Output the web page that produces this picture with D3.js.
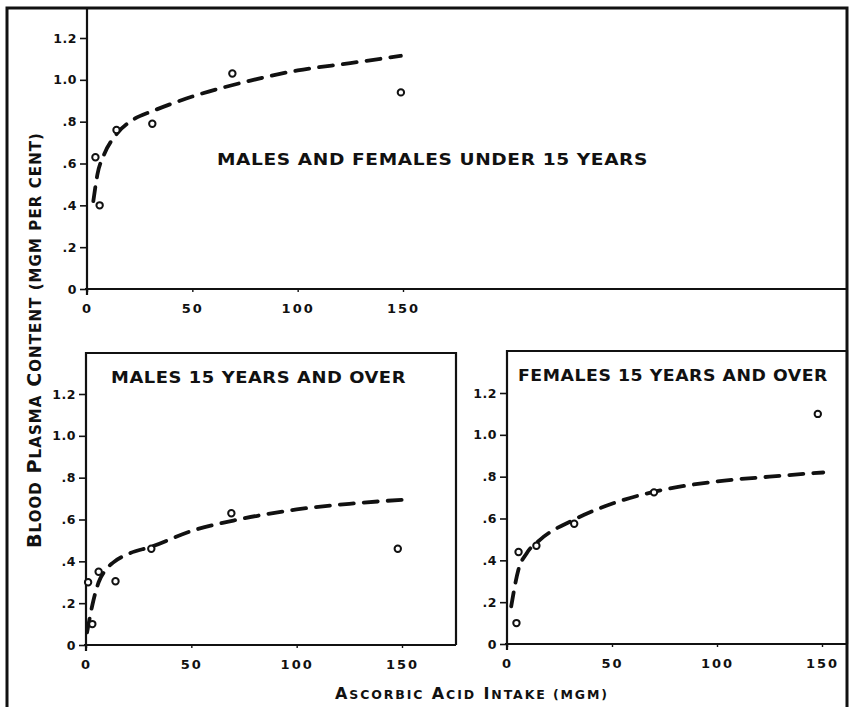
<!DOCTYPE html>
<html>
<head>
<meta charset="utf-8">
<script src="https://cdn.jsdelivr.net/npm/d3@7"></script>
<style>
  body { margin: 0; background: #fff; }
  svg { display: block; }
  text { font-family: "DejaVu Sans", sans-serif; font-weight: bold; fill: #111; }
</style>
</head>
<body>
<svg id="chart"></svg>
<script>
// Axis ticks shared by the three panels
var xTicks = [0, 50, 100, 150];
var yTicks = [0, 0.2, 0.4, 0.6, 0.8, 1.0, 1.2];
var yTickLabels = ["0", ".2", ".4", ".6", ".8", "1.0", "1.2"];

// Males and females under 15 years
var youthIntake = [4, 6, 14, 31, 69, 149];
var youthPlasma = [0.63, 0.40, 0.76, 0.79, 1.03, 0.94];
var youthCurveIntake = [3, 5, 8, 14, 22, 31, 50, 75, 100, 125, 149];
var youthCurvePlasma = [0.42, 0.55, 0.64, 0.74, 0.81, 0.85, 0.92, 0.99, 1.045, 1.08, 1.115];

// Males 15 years and over
var maleIntake = [1, 3, 6, 14, 31, 69, 148];
var malePlasma = [0.30, 0.10, 0.35, 0.305, 0.46, 0.63, 0.46];
var maleCurveIntake = [0.5, 3, 6, 9, 13, 20, 31, 50, 70, 100, 125, 151];
var maleCurvePlasma = [0.06, 0.19, 0.30, 0.355, 0.395, 0.435, 0.47, 0.545, 0.595, 0.648, 0.675, 0.695];

// Females 15 years and over
var femaleIntake = [4.5, 5.5, 14, 32, 70, 148];
var femalePlasma = [0.10, 0.44, 0.47, 0.575, 0.725, 1.10];
var femaleCurveIntake = [2, 5.4, 9.4, 15.7, 31.6, 50.6, 69.7, 99.8, 125, 150.6];
var femaleCurvePlasma = [0.18, 0.354, 0.434, 0.498, 0.593, 0.673, 0.727, 0.777, 0.80, 0.82];

var width = 851,
    height = 707;

var svg = d3.select("#chart")
  .attr("width", width)
  .attr("height", height);

// Outer frame (open at the bottom)
svg.append("path")
  .attr("d", "M7," + height + "V8H847V" + height)
  .attr("fill", "none")
  .attr("stroke", "#111")
  .attr("stroke-width", 3);

// Panel layout: plot area in pixels and the box around it
var panels = [{
  title: "MALES AND FEMALES UNDER 15 YEARS",
  xs: youthIntake, ys: youthPlasma,
  cx: youthCurveIntake, cy: youthCurvePlasma,
  left: 87, right: 403, bottom: 289, top: 38,
  box: { x0: 87, x1: 847, y0: 8, y1: 289, topLine: false },
  titleX: 217, titleW: 431, titleY: 165, titleSize: 15
}, {
  title: "MALES 15 YEARS AND OVER",
  xs: maleIntake, ys: malePlasma,
  cx: maleCurveIntake, cy: maleCurvePlasma,
  left: 86, right: 402, bottom: 645, top: 394,
  box: { x0: 86, x1: 456, y0: 353, y1: 645, topLine: true },
  titleX: 111, titleW: 295, titleY: 383, titleSize: 16
}, {
  title: "FEMALES 15 YEARS AND OVER",
  xs: femaleIntake, ys: femalePlasma,
  cx: femaleCurveIntake, cy: femaleCurvePlasma,
  left: 507, right: 822, bottom: 644, top: 393,
  box: { x0: 507, x1: 847, y0: 351, y1: 644, topLine: true },
  titleX: 518, titleW: 310, titleY: 381, titleSize: 16
}];

// spread letters so a text fills the width of the hand lettering
function fitText(sel, target) {
  var node = sel.node();
  var n = node.getNumberOfChars();
  var natural = node.getComputedTextLength();
  sel.style("letter-spacing", ((target - natural) / (n - 1)) + "px");
}

panels.forEach(function(p) {
  var x = d3.scaleLinear().domain([0, 150]).range([p.left, p.right]);
  var y = d3.scaleLinear().domain([0, 1.2]).range([p.bottom, p.top]);
  var g = svg.append("g");

  // box lines
  var b = p.box;
  var d = "M" + b.x0 + "," + (b.y1 + 6) + "V" + b.y0;
  if (b.topLine) d += "H" + b.x1 + "V" + b.y1;
  d += "M" + (b.x0 - 2) + "," + b.y1 + "H" + b.x1;
  g.append("path")
    .attr("d", d)
    .attr("fill", "none")
    .attr("stroke", "#111")
    .attr("stroke-width", 2.2);

  // y axis
  var yAxis = g.append("g")
    .attr("transform", "translate(" + b.x0 + ",0)")
    .call(d3.axisLeft(y)
      .tickValues(yTicks)
      .tickFormat(function(v, i) { return yTickLabels[i]; })
      .tickSize(7)
      .tickPadding(3));
  yAxis.select(".domain").remove();
  yAxis.selectAll(".tick line").attr("stroke", "#111").attr("stroke-width", 1.6);
  yAxis.selectAll(".tick text")
    .attr("font-size", 12.5)
    .style("letter-spacing", "0.5px")
    .style("font-family", "DejaVu Sans")
    .style("font-weight", "bold");

  // x axis
  var xAxis = g.append("g")
    .attr("transform", "translate(0," + b.y1 + ")")
    .call(d3.axisBottom(x)
      .tickValues(xTicks)
      .tickFormat(d3.format("d"))
      .tickSize(3)
      .tickPadding(12));
  xAxis.select(".domain").remove();
  xAxis.selectAll(".tick line").attr("stroke", "#111").attr("stroke-width", 1.4);
  xAxis.selectAll(".tick text")
    .attr("font-size", 13)
    .style("letter-spacing", "2px")
    .style("font-family", "DejaVu Sans")
    .style("font-weight", "bold");

  // fitted curve, dashed
  var line = d3.line()
    .x(function(v, i) { return x(p.cx[i]); })
    .y(function(v, i) { return y(p.cy[i]); })
    .curve(d3.curveMonotoneX);
  g.append("path")
    .datum(p.cx)
    .attr("d", line)
    .attr("fill", "none")
    .attr("stroke", "#111")
    .attr("stroke-width", 3.8)
    .attr("stroke-dasharray", "14,10")
    .attr("stroke-linecap", "round");

  // observed means
  g.selectAll("circle")
    .data(p.xs)
    .enter().append("circle")
    .attr("cx", function(v) { return x(v); })
    .attr("cy", function(v, i) { return y(p.ys[i]); })
    .attr("r", 3.2)
    .attr("fill", "#fff")
    .attr("stroke", "#111")
    .attr("stroke-width", 2);

  // panel title, glyphs stretched to the lettered width
  g.append("text")
    .attr("x", p.titleX)
    .attr("y", p.titleY)
    .attr("font-size", p.titleSize)
    .attr("textLength", p.titleW)
    .attr("lengthAdjust", "spacingAndGlyphs")
    .style("letter-spacing", "0.5px")
    .text(p.title);
});

// Small-caps axis titles built from big and small tspans
function smallCaps(sel, words, big, small) {
  words.forEach(function(w, i) {
    var first = w.charAt(0), rest = w.slice(1);
    if (first === "(") {
      sel.append("tspan").attr("font-size", small).text((i ? " " : "") + w);
      return;
    }
    sel.append("tspan").attr("font-size", big).text((i ? " " : "") + first);
    if (rest) sel.append("tspan").attr("font-size", small).text(rest);
  });
}

var yLabel = svg.append("text")
  .attr("transform", "translate(41,340) rotate(-90)")
  .attr("text-anchor", "middle");
smallCaps(yLabel, ["BLOOD", "PLASMA", "CONTENT", "(MGM PER CENT)"], 19, 15);
fitText(yLabel, 415);

var xLabel = svg.append("text")
  .attr("x", 472)
  .attr("y", 699)
  .attr("text-anchor", "middle");
smallCaps(xLabel, ["ASCORBIC", "ACID", "INTAKE", "(MGM)"], 16, 12.5);
fitText(xLabel, 272);
</script>
</body>
</html>
